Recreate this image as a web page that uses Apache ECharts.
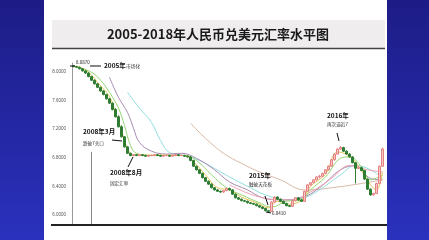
<!DOCTYPE html>
<html><head><meta charset="utf-8">
<script src="https://cdn.jsdelivr.net/npm/echarts@6/dist/echarts.min.js"></script>
<style>html,body{margin:0;padding:0;background:#2327a6;}#c{width:429px;height:240px;}</style>
</head><body><div id="c"></div>
<script>
const titleText = '2005-2018年人民币兑美元汇率水平图';
const yTicks = [6.0, 6.4, 6.8, 7.2, 7.6, 8.0];

const opens = [8.08,8.07,8.06,8.04,8.01,7.98,7.93,7.88,7.83,7.78,7.73,7.68,7.62,7.56,7.47,7.37,7.23,7.09,6.95,6.86,
  6.83,6.84,6.83,6.84,6.83,6.82,6.83,6.83,6.84,6.83,6.82,6.83,6.83,6.82,6.83,6.84,6.83,6.83,
  6.82,6.81,6.76,6.68,6.63,6.58,6.52,6.47,6.43,6.38,6.35,6.33,6.32,6.34,6.37,6.35,6.29,6.24,6.22,6.20,6.19,6.17,6.16,6.15,6.13,6.11,6.09,6.06,
  6.05,6.18,6.25,6.22,6.19,6.16,6.13,6.12,6.20,6.24,6.21,6.19,6.33,6.42,6.45,6.49,6.53,6.54,6.58,6.63,6.68,6.77,6.85,6.92,6.94,6.89,6.85,6.81,6.73,6.65,6.66,6.62,6.50,6.36,6.28,6.30,6.44,6.68];
const closes = [8.07,8.06,8.04,8.01,7.98,7.93,7.88,7.83,7.78,7.73,7.68,7.62,7.56,7.47,7.37,7.23,7.09,6.95,6.86,6.83,
  6.84,6.83,6.84,6.83,6.82,6.83,6.83,6.84,6.83,6.82,6.83,6.83,6.82,6.83,6.84,6.83,6.83,6.82,
  6.81,6.76,6.68,6.63,6.58,6.52,6.47,6.43,6.38,6.35,6.33,6.32,6.34,6.37,6.35,6.29,6.24,6.22,6.20,6.19,6.17,6.16,6.15,6.13,6.11,6.09,6.06,6.05,
  6.18,6.25,6.22,6.19,6.16,6.13,6.12,6.20,6.24,6.21,6.19,6.33,6.42,6.45,6.49,6.53,6.54,6.58,6.63,6.68,6.77,6.85,6.92,6.94,6.89,6.85,6.81,6.73,6.65,6.66,6.62,6.50,6.36,6.28,6.30,6.44,6.68,6.92];
const lows = [8.06,8.05,8.03,8.00,7.97,7.92,7.87,7.82,7.77,7.72,7.67,7.61,7.55,7.46,7.36,7.22,7.08,6.94,6.85,6.82,
  6.82,6.82,6.82,6.82,6.81,6.81,6.82,6.82,6.82,6.81,6.81,6.82,6.81,6.81,6.82,6.82,6.82,6.81,
  6.80,6.75,6.67,6.62,6.57,6.51,6.46,6.42,6.37,6.34,6.32,6.31,6.31,6.33,6.34,6.28,6.23,6.21,6.19,6.18,6.16,6.15,6.14,6.12,6.10,6.08,6.05,6.041,
  6.04,6.17,6.21,6.18,6.15,6.12,6.11,6.11,6.19,6.20,6.18,6.18,6.32,6.41,6.44,6.48,6.51,6.53,6.57,6.62,6.67,6.76,6.84,6.91,6.88,6.84,6.80,6.72,6.44,6.64,6.61,6.49,6.35,6.27,6.27,6.29,6.43,6.67];
const highs = [8.087,8.08,8.07,8.05,8.02,7.99,7.94,7.89,7.84,7.79,7.74,7.69,7.63,7.57,7.49,7.39,7.25,7.10,6.96,6.87,
  6.85,6.85,6.85,6.85,6.84,6.84,6.84,6.85,6.85,6.84,6.84,6.84,6.84,6.84,6.85,6.85,6.84,6.84,
  6.83,6.82,6.77,6.69,6.64,6.59,6.53,6.48,6.44,6.39,6.36,6.34,6.35,6.38,6.38,6.36,6.30,6.25,6.23,6.21,6.20,6.18,6.17,6.16,6.14,6.12,6.10,6.07,
  6.19,6.26,6.26,6.23,6.20,6.17,6.14,6.21,6.25,6.25,6.22,6.34,6.43,6.46,6.50,6.54,6.56,6.59,6.64,6.69,6.78,6.86,6.93,6.96,6.95,6.90,6.86,6.82,6.74,6.67,6.67,6.63,6.51,6.37,6.31,6.45,6.69,6.94];

// moving-average curves as [candle index, value]
const maYellow = [[1,8.08],[5,7.99],[8,7.85],[11.5,7.65],[14,7.43],[16,7.18],[18,6.93],[20,6.84],[37,6.83],[40,6.74],[44,6.56],[48,6.38],[51.5,6.35],[55.5,6.25],[60.5,6.17],[65,6.10],[68,6.19],[72,6.15],[75.5,6.21],[79,6.40],[84,6.57],[88,6.88],[91.5,6.82],[95,6.68],[98.5,6.42],[100.5,6.35],[103,6.60]];
const maGreen = [[1,8.07],[5.5,7.99],[9,7.88],[12,7.71],[15,7.49],[17,7.25],[19,6.97],[21,6.86],[25.5,6.83],[37,6.83],[40.5,6.76],[45.5,6.56],[50.5,6.38],[55.5,6.28],[62,6.17],[66,6.11],[70.5,6.19],[75.5,6.21],[79,6.35],[84,6.53],[89,6.79],[92,6.81],[95.5,6.67],[99,6.49],[103,6.56]];
const maPink = [[52,6.42],[62,6.25],[72,6.21],[79,6.32],[85.5,6.51],[92,6.69],[97.5,6.63],[103,6.60]];
const maPurple = [[11.5,7.92],[14.8,7.64],[17.8,7.43],[19.8,7.21],[22.2,7.01],[25.5,6.89],[30.5,6.85],[35.5,6.86],[40.5,6.79],[46.5,6.63],[52,6.46],[58,6.35],[63,6.24],[69,6.21],[75.5,6.24],[82,6.38],[89,6.63],[94,6.69],[99,6.51],[103,6.49]];
const maCyan = [[18,7.71],[22,7.49],[25.5,7.29],[29,7.04],[32,6.87],[37,6.83],[42,6.76],[47,6.65],[52,6.53],[59,6.38],[64,6.28],[70.5,6.21],[77,6.24],[82,6.35],[89,6.56],[94,6.69],[99,6.63],[103,6.51]];
const maTan = [[39,7.28],[44,7.07],[49.5,6.86],[55.5,6.72],[62,6.60],[69,6.49],[76.5,6.35],[88,6.39],[99,6.46],[103,6.49]];

const categories = closes.map((_, i) => String(i));
const candleData = opens.map((o, i) => [o, closes[i], lows[i], highs[i]]);

const notes = [
  ['8.0870', 76, 62, 4.5, 'normal', '#222'],
  ['2005年', 104, 66, 6.5, 'bold', '#111'],
  ['市场化', 126, 66, 4.8, 'normal', '#333'],
  ['2008年3月', 83, 132, 6.5, 'bold', '#111'],
  ['跌破7关口', 83, 143, 4.6, 'normal', '#333'],
  ['2008年8月', 110, 173, 6.5, 'bold', '#111'],
  ['固定汇率', 110, 183, 4.6, 'normal', '#333'],
  ['2015年', 249, 176, 6.5, 'bold', '#111'],
  ['触破天花板', 249, 184, 4.6, 'normal', '#333'],
  ['6.0410', 272, 213, 4.5, 'normal', '#222'],
  ['2016年', 327, 116, 6.5, 'bold', '#111'],
  ['再次逼近7', 327, 124, 4.6, 'normal', '#333']
];
const pointers = [
  [70, 66, 75, 66], [90, 66, 101, 66], [112, 140, 122, 141], [128, 167, 133, 157],
  [265, 196, 268, 205], [266, 212, 271, 213], [337, 133, 339, 141]
];

const graphic = [
  {type:'rect', z:-1, shape:{x:44, y:0, width:343, height:240}, style:{fill:'#ffffff'}},
  {type:'rect', z:-1, shape:{x:52, y:20, width:333, height:28}, style:{fill:'#efedee'}},
  {type:'line', z:10, shape:{x1:52, y1:48.5, x2:385, y2:48.5}, style:{stroke:'#444', lineWidth:1.5}},
  {type:'line', z:10, shape:{x1:51, y1:225, x2:387, y2:225}, style:{stroke:'#222', lineWidth:2}}
];
notes.forEach(n => graphic.push({type:'text', z:20, style:{text:n[0], x:n[1], y:n[2], fill:n[5],
  font: n[4] + ' ' + n[3] + 'px "Noto Sans CJK SC", sans-serif', textAlign:'left', textVerticalAlign:'middle'}}));
pointers.forEach(p => graphic.push({type:'line', z:20, shape:{x1:p[0], y1:p[1], x2:p[2], y2:p[3]}, style:{stroke:'#111', lineWidth:1}}));

function ma(name, data, color) {
  return {name, type:'line', data, smooth:0.4, showSymbol:false, symbol:'none',
    lineStyle:{width:1, color}, z:3, silent:true};
}

const chart = echarts.init(document.getElementById('c'), null, {renderer:'canvas'});
chart.setOption({
  animation:false,
  backgroundColor:{type:'linear', x:0, y:0, x2:0, y2:1, colorStops:[{offset:0, color:'#1d1c86'}, {offset:1, color:'#2a31bd'}]},
  title:{text:titleText, left:218, top:28, textAlign:'center', padding:0,
    textStyle:{fontFamily:'"Noto Sans CJK SC", sans-serif', fontWeight:'bold', fontSize:13, color:'#1a1a1a'}},
  grid:{left:72, right:45, top:63, bottom:15},
  xAxis:{type:'category', data:categories, boundaryGap:true, axisLine:{show:false}, axisTick:{show:false}, axisLabel:{show:false}, splitLine:{show:false}},
  yAxis:{type:'value', min:5.86, max:8.12, axisLine:{show:true, lineStyle:{color:'#999', width:1}}, axisTick:{show:false}, splitLine:{show:false},
    axisLabel:{customValues:yTicks, formatter:v => Number(v).toFixed(4), fontSize:4.5, color:'#555', margin:6, fontFamily:'Liberation Sans'}},
  graphic,
  series:[
    ma('MA1', maTan, '#d9b9a8'),
    ma('MA2', maCyan, '#93dede'),
    ma('MA3', maPurple, '#a88cb2'),
    ma('MA4', maPink, '#eea2b4'),
    ma('MA5', maGreen, '#95d672'),
    ma('MA6', maYellow, '#e2c45a'),
    {name:'K', type:'candlestick', data:candleData, barWidth:2, z:4,
      itemStyle:{color:'#f7c8c8', color0:'#2e7d32', borderColor:'#e58080', borderColor0:'#2e7d32', borderWidth:1},
      markLine:{silent:true, symbol:'none', label:{show:false}, lineStyle:{color:'#888', width:1, type:'solid'},
        data:[[{coord:['6', 6.88]}, {coord:['6', 5.86]}]]}}
  ]
});
</script></body></html>
